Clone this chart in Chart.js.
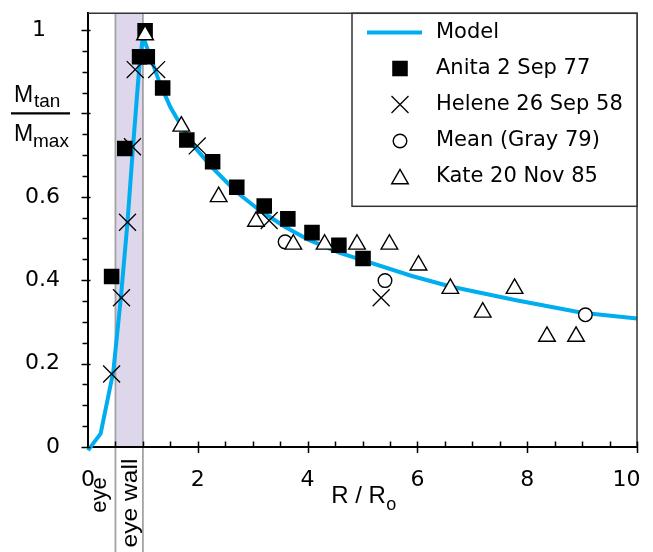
<!DOCTYPE html>
<html><head><meta charset="utf-8">
<script src="https://cdn.jsdelivr.net/npm/chart.js@4/dist/chart.umd.min.js"></script>
<style>html,body{margin:0;padding:0;background:#fff}canvas{display:block}</style>
</head><body>
<canvas id="c" width="653" height="552"></canvas>
<script>
// ---- data ----
const seriesNames = ['Model', 'Anita 2 Sep 77', 'Helene 26 Sep 58', 'Mean (Gray 79)', 'Kate 20 Nov 85'];
const modelR = [0, 0.23, 0.46, 0.6, 0.72, 0.82, 0.93, 1.0, 1.15, 1.3, 1.5, 1.7, 1.95, 2.25, 2.7, 3.1, 3.6, 4.0, 4.6, 5.0, 5.9, 6.6, 7.8, 9.0, 10.0];
const modelV = [-0.008, 0.032, 0.18, 0.36, 0.54, 0.72, 0.905, 0.985, 0.93, 0.875, 0.815, 0.77, 0.718, 0.672, 0.612, 0.57, 0.527, 0.498, 0.465, 0.448, 0.41, 0.385, 0.352, 0.322, 0.308];
const anitaR = [0.43, 0.67, 0.94, 1.04, 1.08, 1.36, 1.80, 2.27, 2.71, 3.21, 3.64, 4.08, 4.57, 5.01];
const anitaV = [0.409, 0.716, 0.936, 0.998, 0.936, 0.861, 0.736, 0.684, 0.623, 0.578, 0.547, 0.514, 0.484, 0.452];
const heleneR = [0.43, 0.61, 0.72, 0.81, 0.86, 1.25, 1.99, 3.30, 5.34];
const heleneV = [0.175, 0.358, 0.539, 0.72, 0.905, 0.905, 0.722, 0.543, 0.358];
const meanR = [3.59, 5.41, 9.06];
const meanV = [0.492, 0.399, 0.317];
const kateR = [1.04, 1.70, 2.38, 3.06, 3.74, 4.31, 4.90, 5.49, 6.02, 6.60, 7.19, 7.77, 8.36, 8.89];
const kateV = [0.988, 0.769, 0.60, 0.541, 0.486, 0.486, 0.486, 0.486, 0.436, 0.38, 0.323, 0.38, 0.265, 0.265];
const xTickValues = [0, 2, 4, 6, 8, 10];
const xTickLabels = ['0', '2', '4', '6', '8', '10'];
const yTickValues = [0, 0.2, 0.4, 0.6, 1];
const yTickLabels = ['0', '0.2', '0.4', '0.6', '1'];
const eyeWallRange = [0.5, 1.0];
const regionLabels = ['eye', 'eye wall'];

// ---- styling ----
const FONT = "'Liberation Sans', Arial, Helvetica, sans-serif";
const TFONT = "'DejaVu Sans', Verdana, sans-serif";
const CYAN = 'rgb(0,174,239)';
const pts = (xs, ys) => xs.map((x, i) => ({x: x, y: ys[i]}));
const near = (a, b) => Math.abs(a - b) < 1e-6;

const markerStyles = [
  null,
  {style: 'rect', r: 11, fill: '#000', stroke: '#000', lw: 0},
  {style: 'crossRot', r: 12, fill: 'transparent', stroke: '#000', lw: 1.3},
  {style: 'circle', r: 6.8, fill: '#fff', stroke: '#000', lw: 1.4},
  {style: 'triangle', r: 9.6, fill: '#fff', stroke: '#000', lw: 1.4}
];

function drawMarker(ctx, m, x, y) {
  const r = m.r;
  ctx.save();
  ctx.beginPath();
  if (m.style === 'rect') {
    const s = Math.SQRT1_2 * r; ctx.rect(x - s, y - s, 2 * s, 2 * s);
  } else if (m.style === 'circle') {
    ctx.arc(x, y, r, 0, Math.PI * 2);
  } else if (m.style === 'triangle') {
    let a = 0;
    ctx.moveTo(x + Math.sin(a) * r, y - Math.cos(a) * r);
    a += 2 * Math.PI / 3; ctx.lineTo(x + Math.sin(a) * r, y - Math.cos(a) * r);
    a += 2 * Math.PI / 3; ctx.lineTo(x + Math.sin(a) * r, y - Math.cos(a) * r);
    ctx.closePath();
  } else if (m.style === 'crossRot') {
    const d = r * Math.SQRT1_2;
    ctx.moveTo(x - d, y - d); ctx.lineTo(x + d, y + d);
    ctx.moveTo(x + d, y - d); ctx.lineTo(x - d, y + d);
  }
  if (m.style !== 'crossRot') { ctx.fillStyle = m.fill; ctx.fill(); }
  if (m.lw > 0) { ctx.strokeStyle = m.stroke; ctx.lineWidth = m.lw; ctx.stroke(); }
  ctx.restore();
}

const deco = {
  id: 'deco',
  beforeDraw(chart) {
    const {ctx, chartArea: a, scales: {x}} = chart;
    const x0 = x.getPixelForValue(eyeWallRange[0]);
    const x1 = x.getPixelForValue(eyeWallRange[1]);
    ctx.save();
    ctx.fillStyle = 'rgb(222,214,234)';
    ctx.fillRect(x0, a.top, x1 - x0, a.bottom - a.top);
    ctx.strokeStyle = '#a3a3a3';
    ctx.lineWidth = 1.8;
    ctx.beginPath();
    ctx.moveTo(x0, a.top); ctx.lineTo(x0, chart.height);
    ctx.moveTo(x1, a.top); ctx.lineTo(x1, chart.height);
    ctx.stroke();
    ctx.restore();
  },
  afterDraw(chart) {
    const {ctx, chartArea: a, scales: {x, y}} = chart;
    ctx.save();
    // frame top / right
    ctx.strokeStyle = '#333';
    ctx.lineWidth = 1.5;
    ctx.beginPath();
    ctx.moveTo(a.left, a.top); ctx.lineTo(a.right, a.top); ctx.lineTo(a.right, a.bottom);
    ctx.stroke();
    // tick marks
    ctx.strokeStyle = '#000';
    ctx.lineWidth = 1.5;
    ctx.beginPath();
    y.ticks.forEach(t => {
      const v = t.value;
      if (v > 1.0001) return;
      const py = Math.round(y.getPixelForValue(v)) + 0.5;
      const major = yTickValues.some(m => near(m, v)) || near(v, 0.8);
      ctx.moveTo(a.left - (major ? 6.5 : 5.5), py);
      ctx.lineTo(a.left + (major ? 2.5 : 0), py);
    });
    x.ticks.forEach(t => {
      const v = t.value;
      if (v <= 0) return;
      const px = Math.round(x.getPixelForValue(v)) + 0.5;
      const major = xTickValues.some(m => near(m, v));
      ctx.moveTo(px, a.bottom - 5.5);
      ctx.lineTo(px, a.bottom + (major ? 6 : 0));
    });
    ctx.stroke();

    // y title (fraction) at the 0.8 position
    const fy = y.getPixelForValue(0.8);
    ctx.fillStyle = '#000';
    ctx.textBaseline = 'alphabetic';
    ctx.textAlign = 'left';
    ctx.font = `23px ${FONT}`;
    ctx.fillText('M', 14, fy - 11);
    ctx.fillText('M', 14, fy + 28);
    ctx.font = `19px ${FONT}`;
    ctx.fillText('tan', 34, fy - 6);
    ctx.fillText('max', 33, fy + 34);
    ctx.lineWidth = 2.2;
    ctx.beginPath(); ctx.moveTo(11, fy); ctx.lineTo(70, fy); ctx.stroke();

    // x title R / Ro
    ctx.font = `24px ${FONT}`;
    const w1 = ctx.measureText('R / R').width;
    ctx.font = `18px ${FONT}`;
    const w2 = ctx.measureText('o').width;
    const cx = (a.left + a.right) / 2 + 1;
    const sx = cx - (w1 + w2) / 2;
    ctx.font = `24px ${FONT}`;
    ctx.fillText('R / R', sx, 503);
    ctx.font = `18px ${FONT}`;
    ctx.fillText('o', sx + w1 + 0.5, 509.5);

    // eye / eye wall labels (rotated)
    const ex = x.getPixelForValue(eyeWallRange[0] / 2);
    const wx = x.getPixelForValue((eyeWallRange[0] + eyeWallRange[1]) / 2);
    ctx.font = `22px ${FONT}`;
    ctx.textAlign = 'center';
    ctx.save(); ctx.translate(ex + 4, 495); ctx.rotate(-Math.PI / 2); ctx.fillText(regionLabels[0], 0, 0); ctx.restore();
    ctx.save(); ctx.translate(wx + 8, 503); ctx.rotate(-Math.PI / 2); ctx.scale(1.12, 1); ctx.fillText(regionLabels[1], 0, 0); ctx.restore();

    // legend
    const lx = a.right - 285, ly = a.top, lw = 285, lh = 193;
    ctx.fillStyle = '#fff';
    ctx.fillRect(lx, ly, lw, lh);
    ctx.strokeStyle = '#333';
    ctx.lineWidth = 1.5;
    ctx.strokeRect(lx, ly, lw, lh);
    const rows = [32.5, 68.5, 104.5, 141, 177];
    const symX = lx + 48;
    rows.forEach((ry, i) => {
      if (i === 0) {
        ctx.strokeStyle = CYAN; ctx.lineWidth = 4;
        ctx.beginPath(); ctx.moveTo(lx + 15, ry); ctx.lineTo(lx + 70, ry); ctx.stroke();
      } else {
        drawMarker(ctx, markerStyles[i], symX, ry + (markerStyles[i].style === 'triangle' ? 2 : 0));
      }
      ctx.fillStyle = '#000';
      ctx.font = `21px ${TFONT}`;
      ctx.textAlign = 'left';
      ctx.textBaseline = 'middle';
      ctx.fillText(seriesNames[i], lx + 84, ry);
    });
    ctx.restore();
  }
};

const mk = (i, data, order) => {
  const m = markerStyles[i];
  return {
    label: seriesNames[i], data: data, order: order, showLine: false,
    pointStyle: m.style, pointRadius: m.r, pointHoverRadius: m.r,
    pointBackgroundColor: m.fill, pointBorderColor: m.stroke, pointBorderWidth: m.lw
  };
};

new Chart(document.getElementById('c'), {
  type: 'scatter',
  data: {
    datasets: [
      {label: seriesNames[0], type: 'line', data: pts(modelR, modelV), order: 5, borderColor: CYAN,
       borderWidth: 4, pointRadius: 0, tension: 0, fill: false, clip: false, borderJoinStyle: 'round'},
      mk(1, pts(anitaR, anitaV), 4),
      mk(2, pts(heleneR, heleneV), 3),
      mk(3, pts(meanR, meanV), 2),
      mk(4, pts(kateR, kateV), 1)
    ]
  },
  options: {
    responsive: false, animation: false, devicePixelRatio: 1,
    layout: {padding: {top: 6, right: 16, left: 0, bottom: 0}},
    plugins: {legend: {display: false}, tooltip: {enabled: false}},
    scales: {
      x: {
        type: 'linear', min: 0, max: 10,
        grid: {display: false},
        border: {display: true, color: '#000', width: 2},
        ticks: {
          stepSize: 0.5, autoSkip: false, maxRotation: 0, minRotation: 0, includeBounds: false,
          padding: 12, color: '#000', font: {family: TFONT, size: 22},
          // the last label ends at the axis end, as in the reference
          callback: v => { const i = xTickValues.findIndex(m => near(m, v)); if (i < 0) return ''; const s = xTickLabels[i]; return i === xTickValues.length - 1 ? s + '   ' : s; }
        },
        afterFit: s => { s.height = 105; s.paddingLeft = 0; s.paddingRight = 0; }
      },
      y: {
        type: 'linear', min: 0, max: 1.04,
        grid: {display: false},
        border: {display: true, color: '#000', width: 2},
        ticks: {
          stepSize: 0.05, autoSkip: false, includeBounds: false,
          padding: 20, color: '#000', font: {family: TFONT, size: 22},
          // the integer label "1" sits at the integer-digit position of the decimals
          callback: v => { const i = yTickValues.findIndex(m => near(m, v)); if (i < 0) return ''; const s = yTickLabels[i]; return near(v, 1) ? s + '  ' : s; }
        },
        afterFit: s => { s.width = 88; s.paddingTop = 0; s.paddingBottom = 0; }
      }
    }
  },
  plugins: [deco]
});
</script>
</body></html>
